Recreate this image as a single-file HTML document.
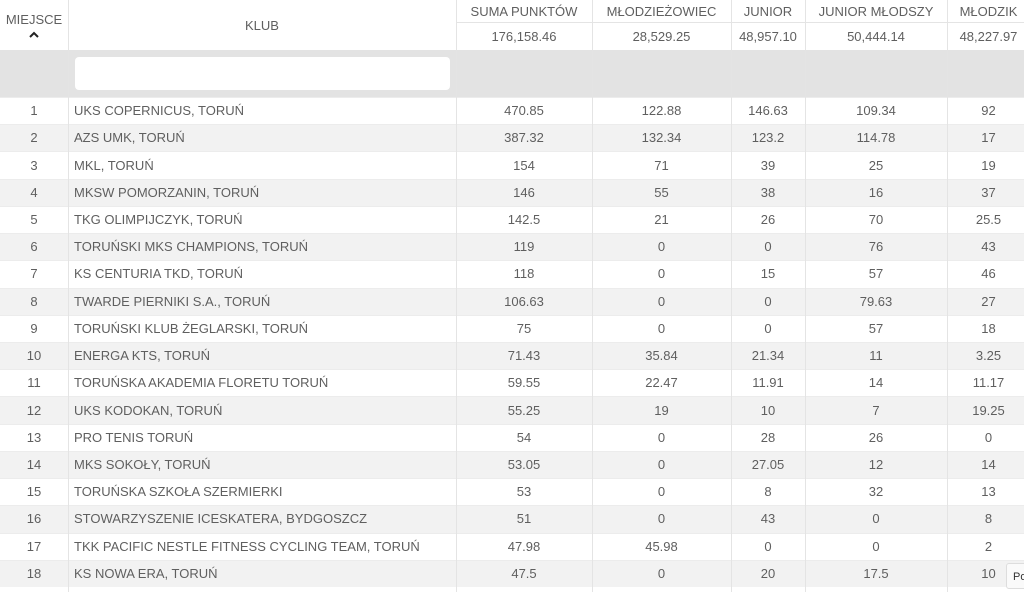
<!DOCTYPE html>
<html><head><meta charset="utf-8"><style>
body{margin:0;width:1024px;height:592px;overflow:hidden;background:#fff;font-family:"Liberation Sans",sans-serif;color:#5f5f5f;font-size:13px;position:relative}
.c{position:absolute;box-sizing:border-box;display:flex;align-items:center;justify-content:center;white-space:nowrap;overflow:hidden}
.l{justify-content:flex-start;padding-left:6px}
.vl{position:absolute;width:1px;background:#e4e4e4}
.hl{position:absolute;height:1px;background:#e4e4e4}
</style></head><body>
<div id="root"></div>
<script>
const cols=[[0,68],[68,456],[456,592],[592,731],[731,805],[805,947],[947,1030]];
const headers=["SUMA PUNKTÓW","MŁODZIEŻOWIEC","JUNIOR","JUNIOR MŁODSZY","MŁODZIK"];
const totals=["176,158.46","28,529.25","48,957.10","50,444.14","48,227.97"];
const clubs=["UKS COPERNICUS, TORUŃ","AZS UMK, TORUŃ","MKL, TORUŃ","MKSW POMORZANIN, TORUŃ","TKG OLIMPIJCZYK, TORUŃ","TORUŃSKI MKS CHAMPIONS, TORUŃ","KS CENTURIA TKD, TORUŃ","TWARDE PIERNIKI S.A., TORUŃ","TORUŃSKI KLUB ŻEGLARSKI, TORUŃ","ENERGA KTS, TORUŃ","TORUŃSKA AKADEMIA FLORETU TORUŃ","UKS KODOKAN, TORUŃ","PRO TENIS TORUŃ","MKS SOKOŁY, TORUŃ","TORUŃSKA SZKOŁA SZERMIERKI","STOWARZYSZENIE ICESKATERA, BYDGOSZCZ","TKK PACIFIC NESTLE FITNESS CYCLING TEAM, TORUŃ","KS NOWA ERA, TORUŃ"];
const suma=["470.85","387.32","154","146","142.5","119","118","106.63","75","71.43","59.55","55.25","54","53.05","53","51","47.98","47.5"];
const mlodziezowiec=["122.88","132.34","71","55","21","0","0","0","0","35.84","22.47","19","0","0","0","0","45.98","0"];
const junior=["146.63","123.2","39","38","26","0","15","0","0","21.34","11.91","10","28","27.05","8","43","0","20"];
const juniorMl=["109.34","114.78","25","16","70","76","57","79.63","57","11","14","7","26","12","32","0","0","17.5"];
const mlodzik=["92","17","19","37","25.5","43","46","27","18","3.25","11.17","19.25","0","14","13","8","2","10"];
const root=document.getElementById('root');
function cell(x,y,w,h,t,cls,bg){const d=document.createElement('div');d.className='c'+(cls?' '+cls:'');d.style.cssText=`left:${x}px;top:${y}px;width:${w}px;height:${h}px;${bg?'background:'+bg:''}`;d.textContent=t;root.appendChild(d);return d;}
// header
let h=cell(0,0,68,50,'','',null);h.innerHTML='<div style="text-align:center;line-height:16px;padding-top:6px">MIEJSCE<br><svg width="12" height="10" viewBox="0 0 12 10"><path d="M2 7 L6 3 L10 7" fill="none" stroke="#222" stroke-width="2"/></svg></div>';


h=cell(68,0,388,50,'KLUB');


for(let i=0;i<5;i++){const[a,b]=cols[i+2];
 h=cell(a,0,b-a,22,headers[i]);
 
 
 h=cell(a,22,b-a,28,totals[i]);
 
 
 const ln=document.createElement('div');ln.className='hl';ln.style.cssText=`left:${a}px;top:22px;width:${b-a}px`;root.appendChild(ln);}
// filter row
h=cell(0,50,1024,47,'','', '#e3e3e3');


const inp=document.createElement('div');inp.style.cssText='position:absolute;left:75px;top:57px;width:375px;height:33px;background:#fff;border-radius:4px';


root.appendChild(inp);
// rows
const rh=27.22,y0=97;
for(let r=0;r<clubs.length;r++){const y=y0+r*rh;const bg=r%2?'#f2f2f2':'#fff';
 const row=document.createElement('div');row.style.cssText=`position:absolute;left:0;top:${y}px;width:1024px;height:${rh}px;background:${bg};border-top:1px solid #ececec;box-sizing:border-box`;
 
 
 root.appendChild(row);
 const vals=[String(r+1),clubs[r],suma[r],mlodziezowiec[r],junior[r],juniorMl[r],mlodzik[r]];
 vals.forEach((v,i)=>{const[a,b]=cols[i];const c=cell(a,y,b-a,rh,v,i==1?'l':'');
  
  });
}
// vertical lines
cols.slice(1).forEach(([a])=>{const v=document.createElement('div');v.className='vl';v.style.cssText=`left:${a}px;top:0;height:592px`;root.appendChild(v);});
// tooltip
const tip=document.createElement('div');tip.style.cssText='position:absolute;left:1006px;top:563px;width:30px;height:26px;background:#fafafa;border:1px solid #ddd;border-radius:3px;font-size:11px;color:#333;line-height:26px;padding-left:6px;box-sizing:border-box';tip.textContent='Po';


root.appendChild(tip);
</script>
</body></html>
